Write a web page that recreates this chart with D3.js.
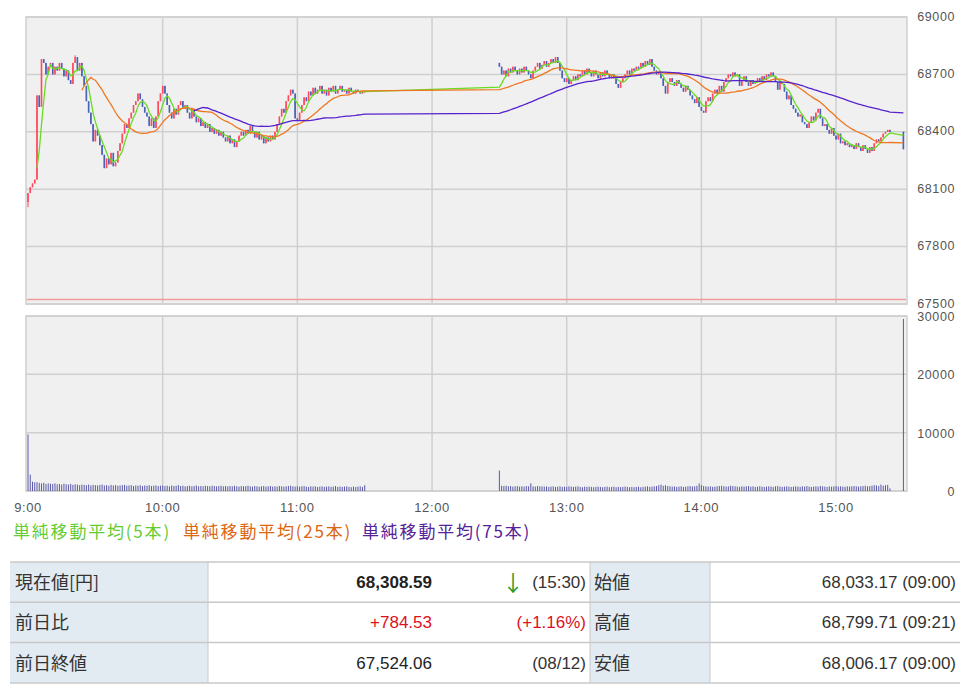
<!DOCTYPE html>
<html>
<head>
<meta charset="utf-8">
<script src="https://cdn.jsdelivr.net/npm/d3@7"></script>
<style>
body { margin: 0; background: #fff; }
svg { display: block; }
text { font-family: "Liberation Sans", Arial, sans-serif; }
.jp { font-family: "Noto Sans CJK JP", sans-serif; }
</style>
</head>
<body>
<svg></svg>
<script>
// data (1 minute candles)

var morningOpen = 68033.17
var morningCloses = [
  68080, 68110, 68130, 68150, 68590, 68530, 68780, 68760, 68700, 68740,
  68760, 68700, 68740, 68720, 68760, 68730, 68690, 68720, 68670, 68650,
  68760, 68790, 68720, 68760, 68690, 68640, 68560, 68500, 68440, 68350,
  68410, 68380, 68330, 68280, 68210, 68260, 68230, 68290, 68220, 68240,
  68300, 68340, 68390, 68440, 68420, 68470, 68500, 68540, 68560, 68600,
  68570, 68530, 68500, 68480, 68430, 68470, 68420, 68480, 68560, 68600,
  68640, 68600, 68540, 68500, 68470, 68520, 68490, 68540, 68560, 68520,
  68540, 68500, 68470, 68520, 68480, 68450, 68470, 68430, 68450, 68420,
  68440, 68400, 68420, 68390, 68410, 68380, 68400, 68370, 68350, 68380,
  68340, 68360, 68320, 68350, 68380, 68400, 68380, 68410, 68390, 68430,
  68400, 68370, 68400, 68360, 68380, 68340, 68370, 68350, 68380, 68360,
  68400, 68440, 68480, 68520, 68500, 68560, 68590, 68620, 68600, 68470,
  68460, 68500, 68540, 68580, 68560, 68610, 68590, 68630, 68600, 68620,
  68640, 68600, 68620, 68590, 68630, 68610, 68640, 68600, 68620, 68640,
  68610, 68620, 68600, 68630, 68610, 68600, 68620, 68610, 68600, 68610,
  68610
]
var morningVolume = [
  9700, 2800, 1600, 1500, 1500, 1400, 1300, 1400, 1200, 1300,
  1250, 1200, 1300, 1150, 1200, 1100, 1250, 1150, 1100, 1200,
  1050, 1150, 1100, 1000, 1100, 1050, 1000, 1100, 950, 1050,
  1000, 950, 1050, 1100, 950, 1000, 900, 1050, 950, 1000,
  900, 950, 1000, 1050, 900, 950, 1000, 850, 950, 900,
  1000, 850, 950, 900, 1000, 850, 900, 950, 850, 900,
  950, 850, 900, 800, 950, 850, 900, 1000, 850, 900,
  800, 850, 900, 800, 850, 950, 800, 850, 800, 900,
  850, 800, 900, 850, 800, 850, 900, 800, 850, 800,
  850, 800, 900, 800, 750, 850, 800, 850, 900, 800,
  750, 850, 800, 750, 800, 850, 750, 800, 850, 750,
  800, 750, 850, 800, 750, 800, 850, 900, 800, 750,
  800, 750, 800, 850, 750, 700, 800, 750, 800, 700,
  750, 800, 700, 750, 800, 700, 750, 850, 700, 750,
  700, 750, 800, 700, 650, 750, 700, 750, 800, 700,
  1000
]

var afternoonOpen = 68760
var afternoonCloses = [
  68740, 68700, 68720, 68690, 68730, 68710, 68740, 68720, 68700, 68730,
  68710, 68740, 68720, 68700, 68680, 68720, 68740, 68760, 68730, 68750,
  68770, 68740, 68760, 68780, 68760, 68790, 68760, 68720, 68680, 68660,
  68680, 68650, 68670, 68690, 68670, 68700, 68690, 68720, 68700, 68730,
  68710, 68690, 68720, 68700, 68680, 68710, 68690, 68720, 68700, 68680,
  68700, 68680, 68650, 68630, 68660, 68680, 68700, 68720, 68700, 68730,
  68720, 68740, 68730, 68760, 68740, 68770, 68750, 68780, 68740, 68720,
  68700, 68710, 68680, 68640, 68600, 68660, 68680, 68660, 68640, 68670,
  68650, 68630, 68610, 68640, 68620, 68590, 68570, 68550, 68580, 68530,
  68510, 68500, 68560, 68580, 68560, 68600, 68620, 68600, 68640, 68610,
  68660, 68680, 68700, 68690, 68710, 68690, 68700, 68640, 68670, 68690,
  68660, 68640, 68670, 68650, 68660, 68680, 68660, 68690, 68670, 68700,
  68690, 68710, 68690, 68660, 68620, 68660, 68650, 68610, 68570, 68590,
  68540, 68520, 68500, 68480, 68490, 68450, 68440, 68420, 68450, 68480,
  68460, 68500, 68520, 68470, 68430, 68440, 68410, 68390, 68420, 68380,
  68360, 68390, 68340, 68350, 68330, 68340, 68320, 68330, 68310, 68340,
  68320, 68300, 68330, 68310, 68290, 68320, 68300, 68340, 68360, 68350,
  68370, 68390, 68400, 68410, 68400
]
var afternoonVolume = [
  3500, 900, 850, 900, 800, 850, 750, 800, 850, 750,
  800, 750, 850, 800, 1300, 800, 750, 850, 800, 800,
  750, 800, 700, 750, 800, 700, 750, 800, 700, 750,
  700, 800, 750, 700, 750, 800, 700, 650, 750, 700,
  750, 700, 650, 700, 750, 700, 650, 700, 750, 650,
  700, 750, 650, 700, 650, 700, 750, 700, 650, 700,
  650, 700, 750, 650, 700, 750, 800, 700, 750, 800,
  850, 1000, 1100, 900, 1000, 850, 800, 750, 800, 700,
  750, 800, 700, 750, 800, 850, 750, 800, 900, 1300,
  1000, 850, 800, 750, 800, 700, 750, 800, 850, 900,
  800, 750, 800, 900, 850, 800, 750, 700, 800, 750,
  800, 850, 750, 800, 700, 750, 800, 750, 700, 750,
  800, 750, 700, 800, 850, 750, 700, 750, 800, 750,
  700, 750, 800, 750, 700, 800, 750, 850, 750, 700,
  750, 800, 750, 850, 800, 750, 700, 800, 750, 800,
  850, 750, 800, 750, 700, 800, 750, 800, 850, 800,
  750, 800, 850, 900, 800, 850, 900, 1000, 950, 850,
  1100, 900, 1000, 1050, 450
]

var closingPrice = 68308.59
var closingVolume = 29500

var dayLow = { minute: 0, value: 68006.17 }
var dayHigh = { minute: 21, value: 68799.71 }
var prevClose = 67524.06

var priceTicks = [67500, 67800, 68100, 68400, 68700, 69000]
var volumeTicks = [0, 10000, 20000, 30000]
var hourLabels = ['9:00', '10:00', '11:00', '12:00', '13:00', '14:00', '15:00']
var maPeriods = [5, 25, 75]
var maColors = ['#66dd22', '#ee7722', '#5522cc']
var legendLabels = ['単純移動平均(5本)', '単純移動平均(25本)', '単純移動平均(75本)']
var legendColors = ['#66cc33', '#dd6611', '#552299']

var tableRows = [
  ['現在値[円]', '68,308.59', '(15:30)', '始値', '68,033.17 (09:00)'],
  ['前日比', '+784.53', '(+1.16%)', '高値', '68,799.71 (09:21)'],
  ['前日終値', '67,524.06', '(08/12)', '安値', '68,006.17 (09:00)']
]

// -----------------

var W = 969
var H = 691

var svg = d3.select('svg')
    .attr('width', W)
    .attr('height', H)

var x = d3.scaleLinear().domain([-0.9, 391.6]).range([26, 907])
var y = d3.scaleLinear().domain([67500, 69000]).range([304, 17])
var yv = d3.scaleLinear().domain([0, 30000]).range([491, 316])

// candles: minutes after 9:00
var candles = []
var prev = morningOpen
morningCloses.forEach(function (c, i) {
  candles.push({ t: i, o: prev, c: c, v: morningVolume[i] })
  prev = c
})
prev = afternoonOpen
afternoonCloses.forEach(function (c, i) {
  candles.push({ t: 210 + i, o: prev, c: c, v: afternoonVolume[i] })
  prev = c
})
candles.push({ t: 390, o: prev, c: closingPrice, v: closingVolume })

candles.forEach(function (d) {
  d.h = Math.max(d.o, d.c)
  d.l = Math.min(d.o, d.c)
  if (d.t === dayLow.minute) d.l = dayLow.value
  if (d.t === dayHigh.minute) d.h = dayHigh.value
})

function movingAverage (n) {
  var out = []
  for (var i = n - 1; i < candles.length; i++) {
    var s = d3.sum(candles.slice(i - n + 1, i + 1), function (d) { return d.c })
    out.push({ t: candles[i].t, v: s / n })
  }
  return out
}

var hours = d3.range(hourLabels.length).map(function (i) { return i * 60 })

function panel (top, bottom, ticks, scale, dy) {
  var g = svg.append('g')
  g.append('rect')
    .attr('x', 26).attr('y', top)
    .attr('width', 881).attr('height', bottom - top)
    .attr('fill', '#f0f0f0')
  g.selectAll('.hg').data(ticks).enter().append('line')
    .attr('x1', 26).attr('x2', 907)
    .attr('y1', function (d) { return scale(d) })
    .attr('y2', function (d) { return scale(d) })
    .attr('stroke', '#cfcfcf').attr('stroke-width', 1.5)
  g.selectAll('.vg').data(hours.slice(1)).enter().append('line')
    .attr('x1', function (d) { return x(d) })
    .attr('x2', function (d) { return x(d) })
    .attr('y1', top).attr('y2', bottom)
    .attr('stroke', '#cfcfcf').attr('stroke-width', 1.5)
  g.append('rect')
    .attr('x', 26).attr('y', top)
    .attr('width', 881).attr('height', bottom - top)
    .attr('fill', 'none').attr('stroke', '#cfcfcf').attr('stroke-width', 1.5)
  g.selectAll('.lab').data(ticks).enter().append('text')
    .attr('x', 955)
    .attr('y', function (d) { return scale(d) + dy })
    .attr('text-anchor', 'end')
    .attr('fill', '#555')
    .style('font-size', '12.5px')
    .style('letter-spacing', '0.6px')
    .text(function (d) { return d })
  return g
}

panel(17, 304, priceTicks, y, 3.5)
panel(316, 491, volumeTicks, yv, 5)

// previous close
svg.append('line')
  .attr('x1', 27).attr('x2', 906)
  .attr('y1', y(prevClose)).attr('y2', y(prevClose))
  .attr('stroke', '#f29a9a').attr('stroke-width', 1.5)

// candles
var cg = svg.append('g')
cg.selectAll('line').data(candles).enter().append('line')
  .attr('x1', function (d) { return x(d.t) })
  .attr('x2', function (d) { return x(d.t) })
  .attr('y1', function (d) { return y(d.h) })
  .attr('y2', function (d) { return y(d.l) })
  .attr('stroke', function (d) { return d.c >= d.o ? '#ff4a5e' : '#4a62b8' })
  .attr('stroke-width', 1)
cg.selectAll('rect').data(candles).enter().append('rect')
  .attr('x', function (d) { return x(d.t) - 0.8 })
  .attr('width', 1.6)
  .attr('y', function (d) { return y(Math.max(d.o, d.c)) })
  .attr('height', function (d) { return Math.max(1, Math.abs(y(d.o) - y(d.c))) })
  .attr('fill', function (d) { return d.c >= d.o ? '#ff4a5e' : '#4a62b8' })

// moving averages
var line = d3.line()
  .x(function (d) { return x(d.t) })
  .y(function (d) { return y(d.v) })
maPeriods.forEach(function (n, i) {
  svg.append('path')
    .datum(movingAverage(n))
    .attr('d', line)
    .attr('fill', 'none')
    .attr('stroke', maColors[i])
    .attr('stroke-width', 1.3)
})

// volume
svg.append('g').selectAll('rect').data(candles).enter().append('rect')
  .attr('x', function (d) { return x(d.t) - 0.5 })
  .attr('width', 1)
  .attr('y', function (d) { return yv(d.v) })
  .attr('height', function (d) { return yv(0) - yv(d.v) })
  .attr('fill', '#5a5aa8')

// time labels
svg.append('g').selectAll('text').data(hourLabels).enter().append('text')
  .attr('x', function (d, i) { return x(hours[i]) })
  .attr('y', 512)
  .attr('text-anchor', 'middle')
  .attr('fill', '#555')
  .style('font-size', '13px')
  .style('letter-spacing', '0.6px')
  .text(function (d) { return d })

// legend
var legendX = [13, 183, 362]
svg.append('g').selectAll('text').data(legendLabels).enter().append('text')
  .attr('class', 'jp')
  .attr('x', function (d, i) { return legendX[i] })
  .attr('y', 538)
  .attr('fill', function (d, i) { return legendColors[i] })
  .style('font-size', '17px')
  .style('letter-spacing', '1.8px')
  .text(function (d) { return d })

// table
var cols = [10, 208, 590, 710, 960]
var rowTop = 562
var rowH = 40.3
var tg = svg.append('g')
tableRows.forEach(function (r, i) {
  var ty = rowTop + i * rowH
  tg.append('rect').attr('x', cols[0]).attr('y', ty)
    .attr('width', cols[1] - cols[0]).attr('height', rowH).attr('fill', '#e3ebf2')
  tg.append('rect').attr('x', cols[2]).attr('y', ty)
    .attr('width', cols[3] - cols[2]).attr('height', rowH).attr('fill', '#e3ebf2')
  var base = ty + rowH / 2 + 6
  var red = i === 1
  tg.append('text').attr('class', 'jp').attr('x', 15).attr('y', base + 1)
    .attr('fill', '#333').style('font-size', '18px').text(r[0])
  tg.append('text').attr('x', 432).attr('y', base).attr('text-anchor', 'end')
    .attr('fill', red ? '#dd1122' : '#222')
    .style('font-size', '17px')
    .style('font-weight', i === 0 ? 'bold' : 'normal')
    .text(r[1])
  tg.append('text').attr('x', 586).attr('y', base).attr('text-anchor', 'end')
    .attr('fill', red ? '#dd1122' : '#333')
    .style('font-size', '17px').text(r[2])
  tg.append('text').attr('class', 'jp').attr('x', 594).attr('y', base + 1)
    .attr('fill', '#333').style('font-size', '18px').text(r[3])
  tg.append('text').attr('x', 956).attr('y', base).attr('text-anchor', 'end')
    .attr('fill', '#333').style('font-size', '17px').text(r[4])
})
tg.append('text').attr('class', 'jp')
  .attr('x', 513).attr('y', rowTop + rowH / 2 + 9)
  .attr('text-anchor', 'middle').attr('fill', '#2a9a2a')
  .style('font-size', '22px').text('↓')
d3.range(tableRows.length + 1).forEach(function (i) {
  tg.append('line').attr('x1', cols[0]).attr('x2', cols[4])
    .attr('y1', rowTop + i * rowH).attr('y2', rowTop + i * rowH)
    .attr('stroke', '#c8c8c8').attr('stroke-width', 1.5)
})
cols.slice(1, 4).forEach(function (c) {
  tg.append('line').attr('x1', c).attr('x2', c)
    .attr('y1', rowTop).attr('y2', rowTop + rowH * tableRows.length)
    .attr('stroke', '#c8c8c8').attr('stroke-width', 1)
})
</script>
</body>
</html>
